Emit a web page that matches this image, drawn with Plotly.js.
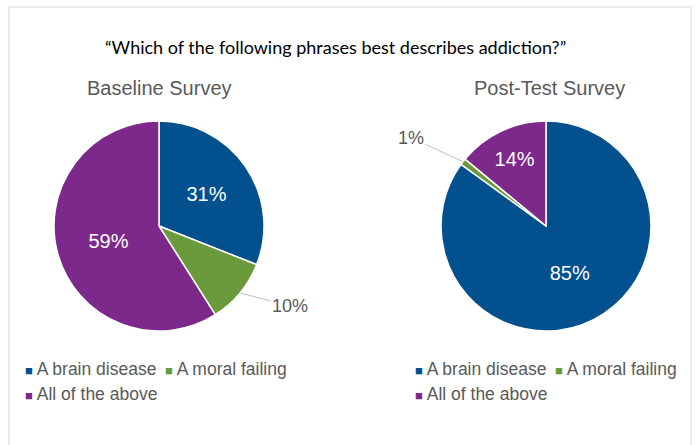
<!DOCTYPE html>
<html><head><meta charset="utf-8">
<script src="https://cdn.plot.ly/plotly-3.0.1.min.js"></script>
<style>html,body{margin:0;padding:0;background:#fff}#chart{width:696px;height:445px}</style>
</head><body><div id="chart"></div>
<script>
const chartTitle = '“Which of the following phrases best describes addiction?”';
const surveyNames = ['Baseline Survey', 'Post-Test Survey'];
const categories = ['A brain disease', 'A moral failing', 'All of the above'];
const baselineValues = [31, 10, 59];
const postTestValues = [85, 1, 14];
const sliceColors = ['#02508e', '#6a9a3b', '#7d298c'];

const W = 696, H = 445, M = {l: 0, r: 0, t: 0, b: 0};
const gw = W - M.l - M.r, gh = H - M.t - M.b;
const px2x = p => (p - M.l) / gw;
const py2y = p => 1 - (p - M.t) / gh;
const FONT = 'Liberation Sans, Arial, sans-serif';
const SMALL = 12; // slices below this share get an outside label

const pies = [
  {values: baselineValues, name: surveyNames[0], cx: 159, cy: 226, r: 105, titleX: 159, legendX: 23, off: [50, 13]},
  {values: postTestValues, name: surveyNames[1], cx: 546, cy: 226, r: 105, titleX: 549, legendX: 413, off: [-52, -24]}
];
const legendY = 369, legendRow = 25, legendCol = 140;

const data = [];
const annotations = [{
  text: chartTitle, xref: 'paper', yref: 'paper', x: px2x(335), y: py2y(47),
  xanchor: 'center', yanchor: 'middle',
  showarrow: false, font: {family: 'Lato, sans-serif', size: 18, color: '#000'}
}];

pies.forEach(p => {
  const total = p.values.reduce((a, b) => a + b, 0);
  data.push({
    type: 'pie', name: p.name, labels: categories, values: p.values,
    sort: false, direction: 'clockwise', rotation: 0,
    domain: {x: [px2x(p.cx - p.r), px2x(p.cx + p.r)], y: [py2y(p.cy + p.r), py2y(p.cy - p.r)]},
    marker: {colors: sliceColors, line: {color: '#ffffff', width: 1.5}},
    texttemplate: p.values.map(v => v < SMALL ? '' : '%{value}%'),
    textposition: p.values.map(v => v < SMALL ? 'none' : 'inside'),
    insidetextorientation: 'horizontal',
    textfont: {family: FONT, size: 20, color: '#ffffff'},
    hoverinfo: 'label+value',
    showlegend: false
  });
  annotations.push({
    text: p.name, xref: 'paper', yref: 'paper', x: px2x(p.titleX), y: py2y(88),
    xanchor: 'center', yanchor: 'middle',
    showarrow: false, font: {family: FONT, size: 20, color: '#595959'}
  });
  let cum = 0;
  p.values.forEach(v => {
    const mid = (cum + v / 2) / total * 2 * Math.PI;
    cum += v;
    if (v < SMALL) {
      const ex = p.cx + p.r * Math.sin(mid), ey = p.cy - p.r * Math.cos(mid);
      annotations.push({
        text: v + '%', xref: 'paper', yref: 'paper', x: px2x(ex), y: py2y(ey),
        showarrow: true, arrowhead: 0, arrowwidth: 1, arrowcolor: '#bfbfbf', standoff: 0,
        ax: p.off[0], ay: p.off[1],
        font: {family: FONT, size: 18, color: '#595959'}
      });
    }
  });
  // legend entries: two per row
  categories.forEach((c, i) => {
    const col = i % 2, row = Math.floor(i / 2);
    annotations.push({
      text: '<span style="color:' + sliceColors[i] + ';font-size:13px">■</span> ' + c,
      xref: 'paper', yref: 'paper',
      x: px2x(p.legendX + col * legendCol), y: py2y(legendY + row * legendRow),
      xanchor: 'left', yanchor: 'middle', showarrow: false,
      font: {family: FONT, size: 17.5, color: '#595959'}
    });
  });
});

const layout = {
  width: W, height: H, margin: M, paper_bgcolor: '#ffffff', plot_bgcolor: '#ffffff',
  showlegend: false,
  annotations: annotations,
  shapes: [{type: 'rect', xref: 'paper', yref: 'paper', x0: px2x(9), x1: px2x(691), y0: py2y(470), y1: py2y(7),
            line: {color: '#ebebeb', width: 2}, layer: 'below'}]
};

Plotly.newPlot('chart', data, layout, {displayModeBar: false, staticPlot: true});
</script>
</body></html>
